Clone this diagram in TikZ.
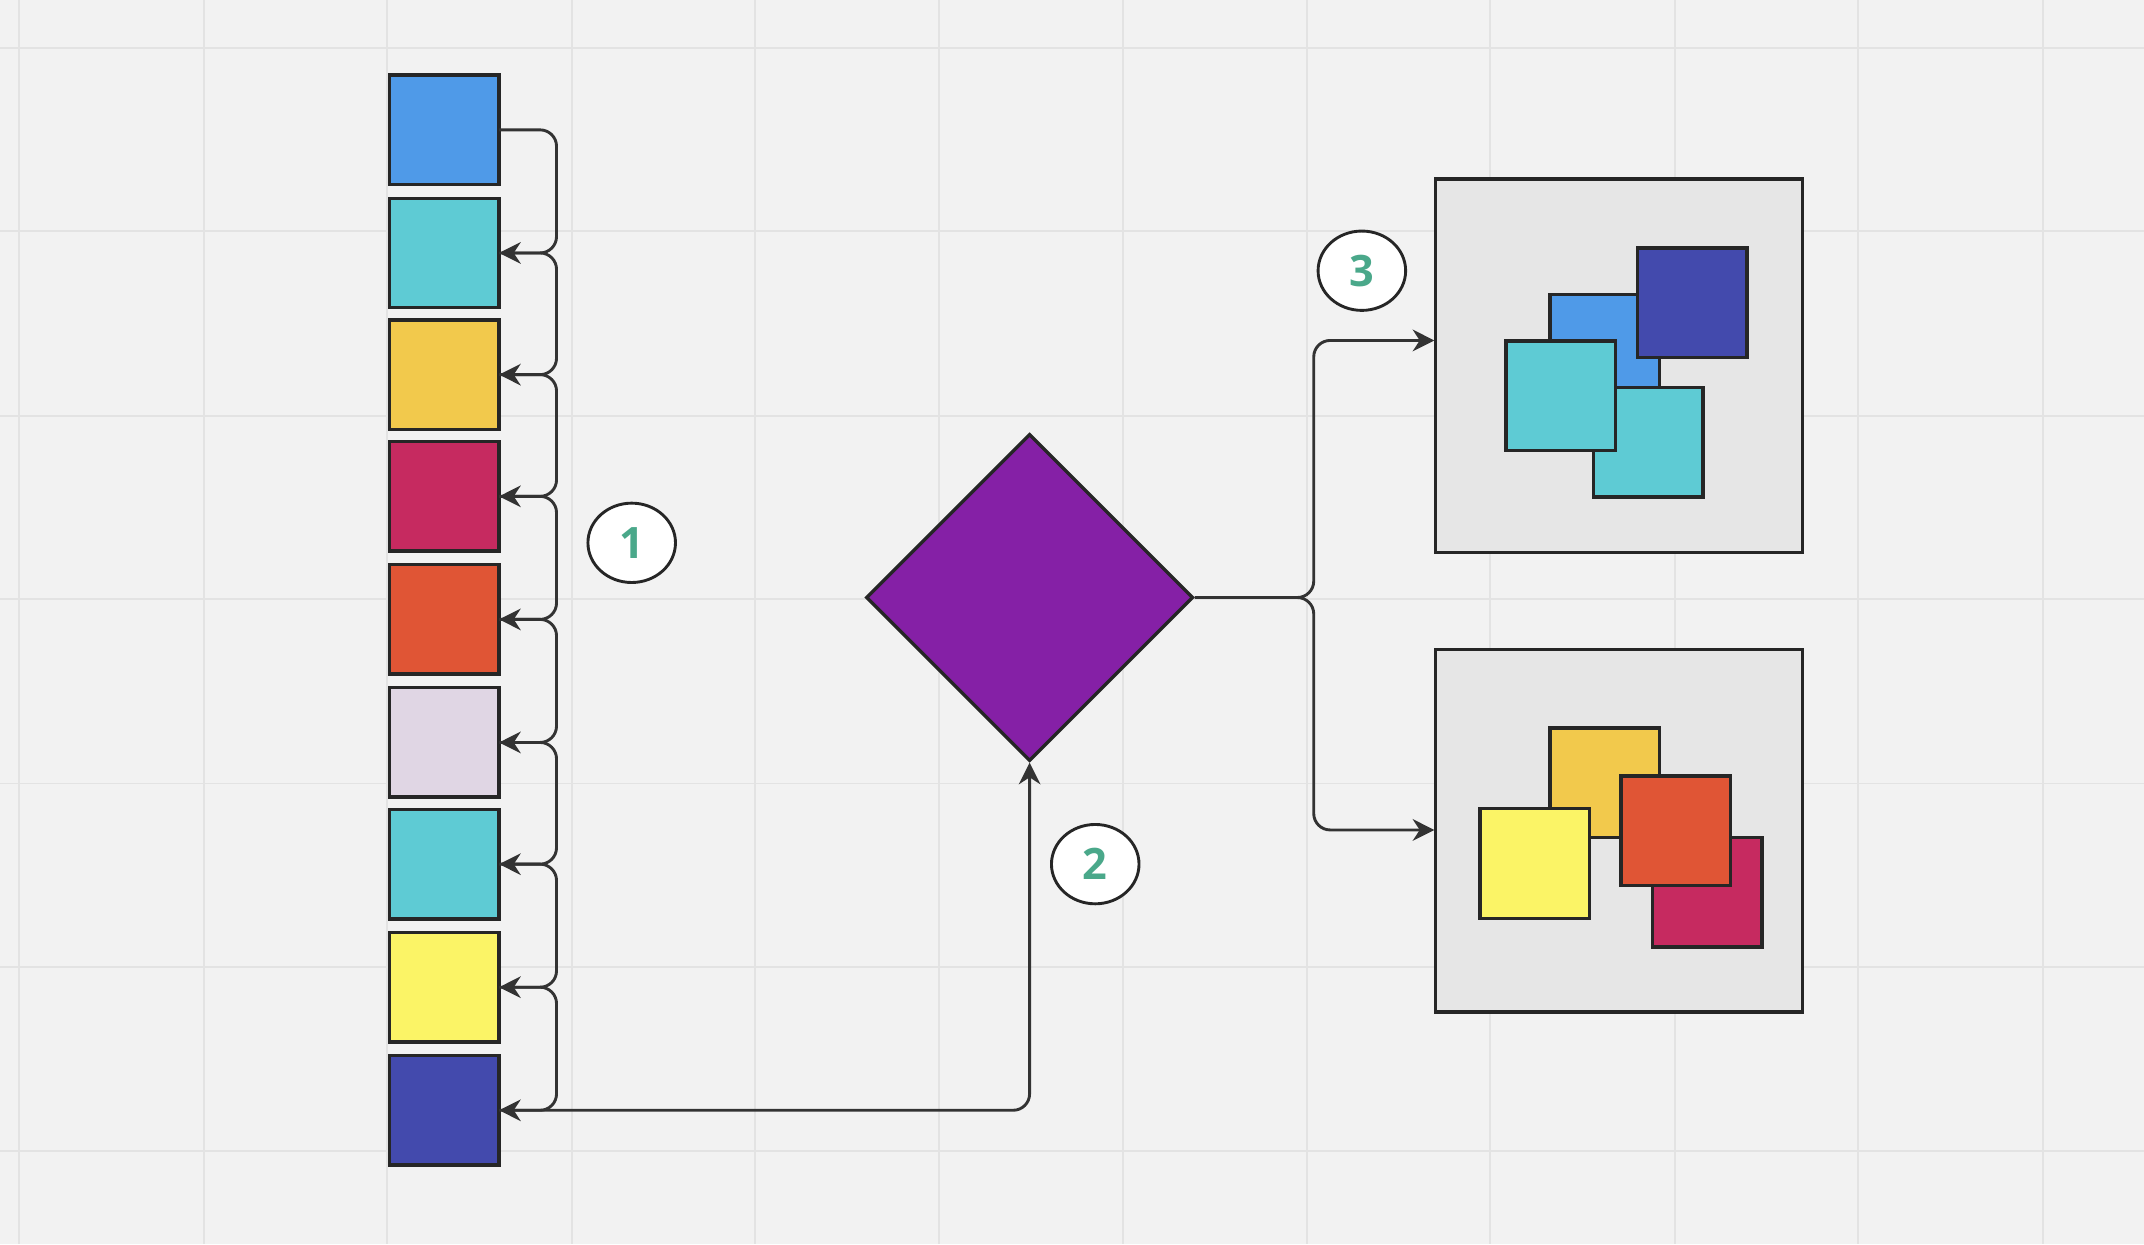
\documentclass[tikz,border=0pt]{standalone}
\usepackage{fontspec}
\setmainfont{Open Sans}
\usetikzlibrary{shapes.geometric,arrows.meta,calc}
\definecolor{bg}{HTML}{F2F2F2}
\definecolor{gridc}{HTML}{E3E3E3}
\definecolor{cblue}{HTML}{4F9AE8}
\definecolor{cteal}{HTML}{5ECBD4}
\definecolor{cyel}{HTML}{F2C94C}
\definecolor{ccrim}{HTML}{C62A60}
\definecolor{corg}{HTML}{E05535}
\definecolor{clav}{HTML}{E0D6E4}
\definecolor{cyel2}{HTML}{FBF466}
\definecolor{cnavy}{HTML}{434AAD}
\definecolor{cpur}{HTML}{8520A6}
\definecolor{cbox}{HTML}{E6E6E6}
\definecolor{cgreen}{HTML}{4AA88A}
\definecolor{cline}{HTML}{333333}
\tikzset{
  sq/.style={draw=black!85,line width=0.7pt,minimum size=0.8cm,inner sep=0,outer sep=0},
  arr/.style={draw=cline,line width=0.6pt,rounded corners=1.2mm,-{Stealth[length=4.5pt,width=4.5pt]}},
  ln/.style={draw=cline,line width=0.6pt,rounded corners=1.2mm},
  badge/.style={ellipse,draw=black!85,fill=white,line width=0.6pt,minimum width=0.64cm,minimum height=0.58cm,inner sep=0,text=cgreen,font=\bfseries\fontsize{9}{10}\selectfont},
  bigbox/.style={draw=black!85,fill=cbox,line width=0.7pt,inner sep=0}
}
\begin{document}
\begin{tikzpicture}[x=0.01cm,y=-0.01cm]
\fill[bg] (0,0) rectangle (1568,910);
\useasboundingbox (0,0) rectangle (1568,910);
\foreach \x in {14,149,283,418,552,687,821,956,1090,1225,1359,1494} \draw[gridc,line width=0.4pt] (\x,0)--(\x,910);
\foreach \y in {35,169,304,438,573,707,842} \draw[gridc,line width=0.4pt] (0,\y)--(1568,\y);
% squares column
\foreach \n/\y/\c in {1/95/cblue,2/185/cteal,3/274/cyel,4/363/ccrim,5/453/corg,6/543/clav,7/632/cteal,8/722/cyel2,9/812/cnavy}
  \node[sq,fill=\c] (s\n) at (325,\y) {};
\foreach \a/\b in {1/2,2/3,3/4,4/5,5/6,6/7,7/8,8/9}
  \draw[arr] (s\a.east) -| ($(s\b.east)+(42,0)$) -- (s\b.east);
% diamond
\node[diamond,draw=black!85,fill=cpur,line width=0.7pt,minimum width=2.39cm,minimum height=2.39cm,inner sep=0] (d) at (753,437) {};
\draw[arr] (s9.east) -| (d.south);
% boxes
\node[bigbox,minimum width=2.68cm,minimum height=2.73cm] (b1) at (1184,267.5) {};
\node[bigbox,minimum width=2.68cm,minimum height=2.65cm] (b2) at (1184,607.5) {};
\coordinate (b1in) at (1049,249);
\coordinate (b2in) at (1049,607);
\draw[arr] (d.east) -- ++(87,0) |- (b1in);
\draw[arr] (d.east) -- ++(87,0) |- (b2in);
% box1 content
\node[sq,fill=cblue] (p1) at (1173.5,255.5) {};
\node[sq,fill=cteal] (p2) at (1205.5,323.5) {};
\node[sq,fill=cnavy] (p3) at (1237.5,221.5) {};
\node[sq,fill=cteal] (p4) at (1141.5,289.5) {};
% box2 content
\node[sq,fill=cyel] (q1) at (1173.5,572.5) {};
\node[sq,fill=ccrim] (q2) at (1248.5,652.5) {};
\node[sq,fill=corg] (q3) at (1225.5,607.5) {};
\node[sq,fill=cyel2] (q4) at (1122.5,631.5) {};
% badges
\node[badge] (n1) at (462,397) {1};
\node[badge] (n2) at (801,632) {2};
\node[badge] (n3) at (996,198) {3};
\end{tikzpicture}
\end{document}
